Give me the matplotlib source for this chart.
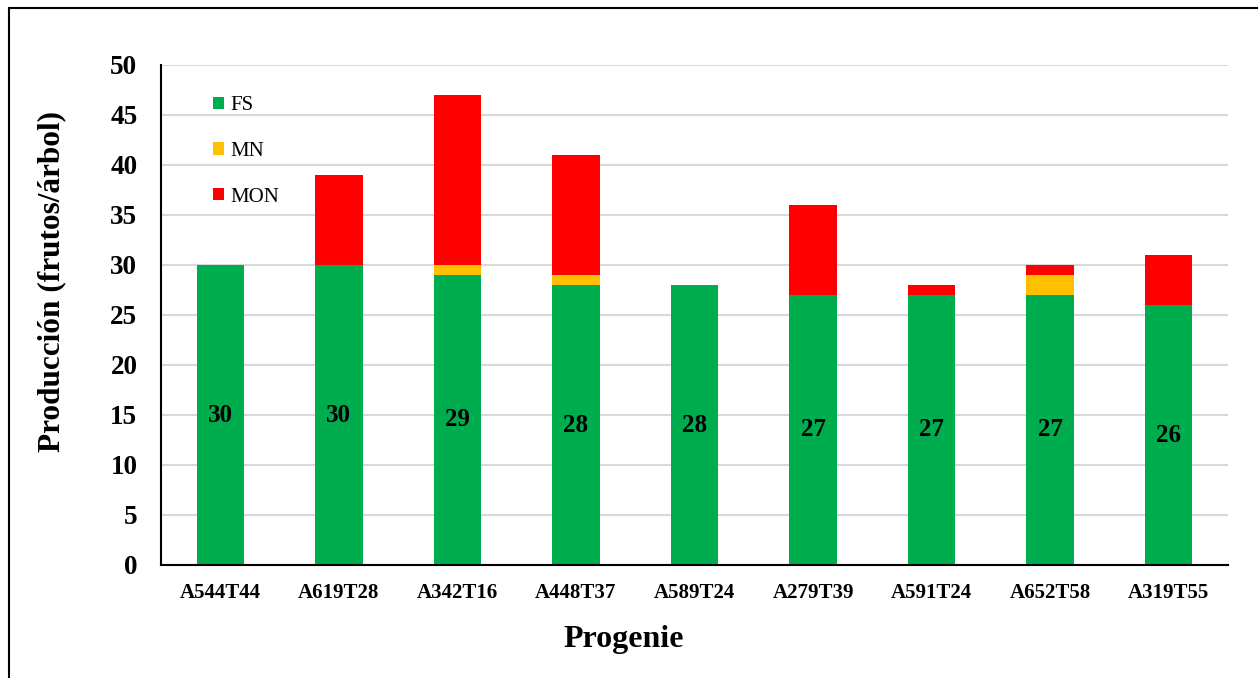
import matplotlib
matplotlib.use("Agg")
import matplotlib.pyplot as plt
from matplotlib.patches import Rectangle
import numpy as np

progenies = ["A544T44", "A619T28", "A342T16", "A448T37", "A589T24",
             "A279T39", "A591T24", "A652T58", "A319T55"]
fs = [30, 30, 29, 28, 28, 27, 27, 27, 26]
mn = [0, 0, 1, 1, 0, 0, 0, 2, 0]
mon = [0, 9, 17, 12, 0, 9, 1, 1, 5]
series_names = ["FS", "MN", "MON"]
series_colors = ["#00ad4e", "#ffc000", "#ff0000"]
y_ticks = list(range(0, 51, 5))

plt.rcParams["font.family"] = ["Liberation Serif", "DejaVu Serif"]

fig = plt.figure(figsize=(12.58, 6.78), dpi=100)
ax = fig.add_axes([161 / 1258, 1 - 565 / 678, (1228 - 161) / 1258, 500 / 678])

x = np.arange(len(progenies))
w = 0.4
fs_arr = np.array(fs)
mn_arr = np.array(mn)
mon_arr = np.array(mon)
ax.bar(x, fs_arr, w, color=series_colors[0], label=series_names[0], zorder=3)
ax.bar(x, mn_arr, w, bottom=fs_arr, color=series_colors[1], label=series_names[1], zorder=3)
ax.bar(x, mon_arr, w, bottom=fs_arr + mn_arr, color=series_colors[2], label=series_names[2], zorder=3)

for xi, v in zip(x, fs):
    ax.text(xi, v / 2, str(v), ha="center", va="center", fontsize=18,
            fontweight="bold", color="black", zorder=4)

ax.set_xlim(-0.5, len(progenies) - 0.5)
ax.set_ylim(0, 50)
ax.set_yticks(y_ticks)
ax.set_xticks(x)
ax.set_xticklabels(progenies, fontsize=15, fontweight="bold")
ax.tick_params(axis="y", labelsize=19.5, length=0, pad=17)
for lbl in ax.get_yticklabels():
    lbl.set_fontweight("bold")
ax.tick_params(axis="x", length=0, pad=13)
ax.yaxis.grid(True, color="#d9d9d9", linewidth=1.5, zorder=0)
ax.set_axisbelow(True)
for s in ["top", "right"]:
    ax.spines[s].set_visible(False)
for s in ["left", "bottom"]:
    ax.spines[s].set_color("black")
    ax.spines[s].set_linewidth(1.5)
    ax.spines[s].set_zorder(5)

ax.set_xlabel("Progenie", fontsize=23, fontweight="bold")
ax.xaxis.set_label_coords(0.434, -0.12)
ax.set_ylabel("Producción (frutos/árbol)", fontsize=22.5, fontweight="bold")
ax.yaxis.set_label_coords(-0.089, 0.566)

ax.legend(loc="upper left", bbox_to_anchor=(0.031, 0.975), frameon=False,
          fontsize=15, handlelength=0.55, handleheight=0.55,
          handletextpad=0.3, labelspacing=1.28)

# outer chart border
fig.patches.append(Rectangle((9 / 1258, -0.01), 1.2, 1 - 8 / 678 + 0.01,
                             transform=fig.transFigure, fill=False,
                             edgecolor="black", linewidth=1.5))

fig.savefig("out.png", dpi=100)
